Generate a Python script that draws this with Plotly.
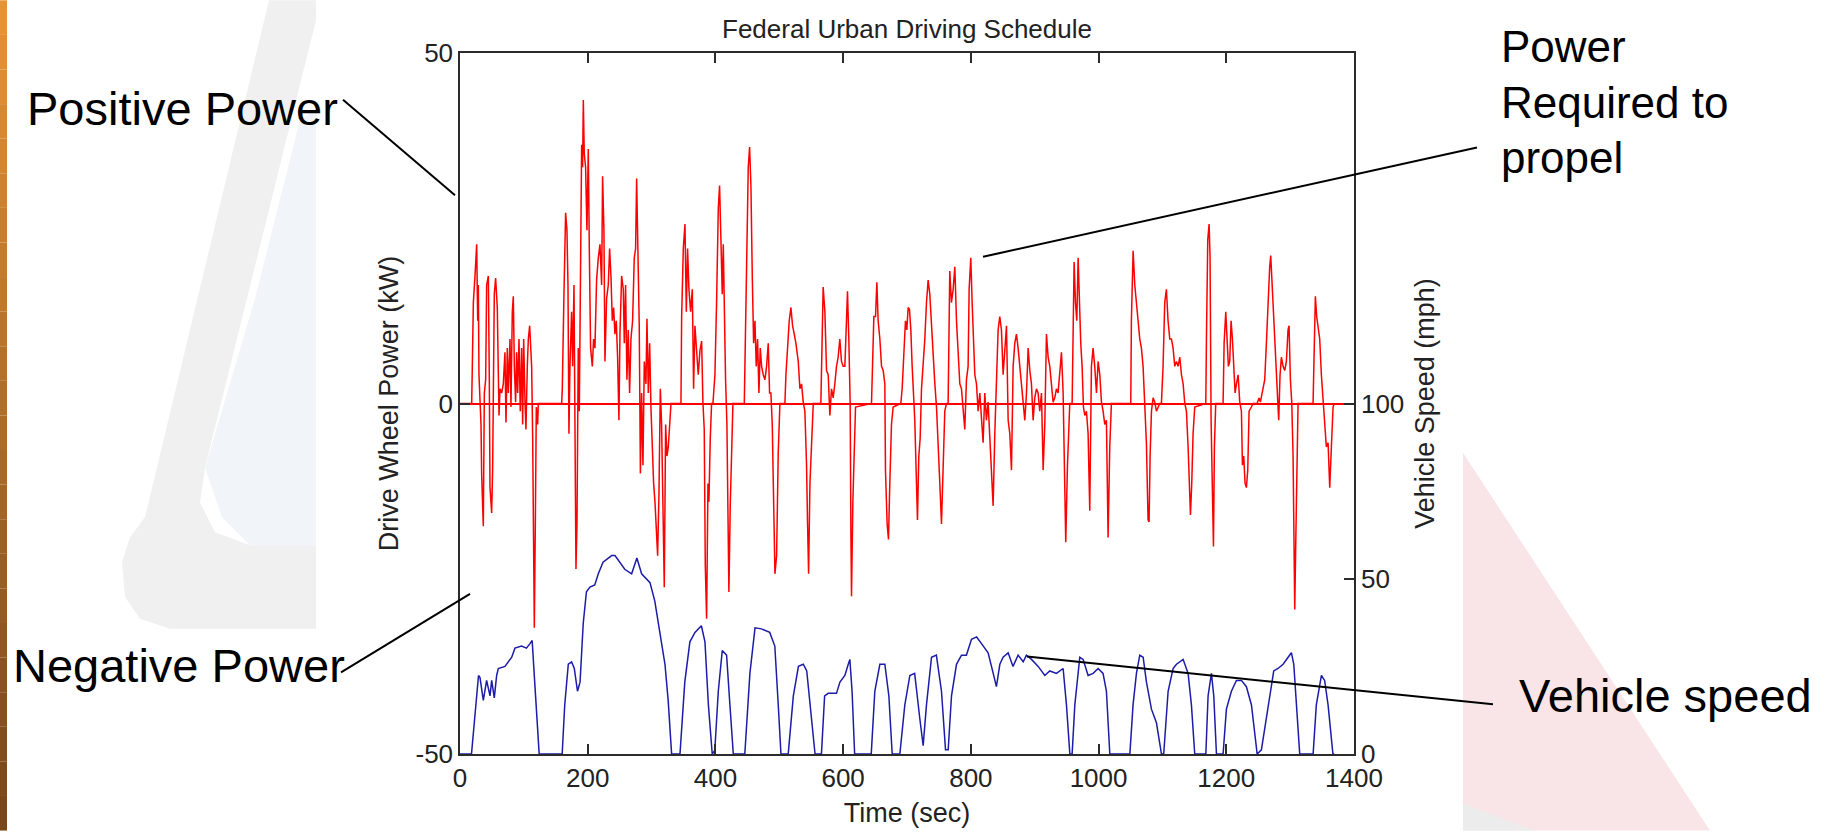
import plotly.graph_objects as go

# ---------------- data ----------------
P_TIME = [0, 18.3, 19.3, 20.9, 23.5, 26.1, 27.7, 28.7, 29.7, 31.3, 32.9, 33.9, 36.5, 38.1, 40.2, 41.7, 44.4, 45.9, 47.0, 49.6,
          51.1, 53.7, 55.8, 58.4, 60.0, 61.1, 62.6, 65.2, 67.8, 70.4, 72.0, 74.1, 75.7, 78.3, 79.8, 81.9, 83.5, 85.1, 87.1,
          88.7, 90.3, 92.4, 94.4, 96.5, 98.1, 99.7, 101.8, 103.3, 105.4, 107.0, 109.1, 110.6, 112.2, 113.8, 115.3, 116.4,
          117.9, 119.5, 121.6, 122.6, 159.2, 160.2, 162.8, 165.4, 167.5, 169.1, 170.6, 172.2, 174.8, 176.4, 178.5, 180.0,
          181.6, 183.2, 185.2, 186.8, 188.9, 190.5, 192.0, 193.1, 194.6, 196.7, 198.8, 200.9, 202.5, 204.5, 207.2, 209.2,
          211.3, 213.9, 216.6, 219.2, 221.8, 223.3, 225.4, 227.0, 229.6, 232.2, 234.3, 236.4, 238.5, 240.6, 242.6, 244.7,
          246.8, 248.9, 250.5, 253.1, 255.7, 257.3, 259.3, 261.4, 263.5, 265.6, 267.7, 270.3, 272.9, 275.0, 276.6, 278.6,
          280.7, 282.5, 284.4, 286.5, 288.6, 291.2, 292.8, 294.9, 297.0, 299.0, 301.1, 303.2, 305.3, 307.4, 309.5, 311.6,
          313.7, 315.7, 317.8, 319.9, 322.0, 324.1, 326.2, 328.3, 330.4, 346.0, 347.1, 349.7, 352.3, 354.4, 356.4, 358.5,
          361.1, 363.8, 365.8, 367.9, 370.5, 373.1, 375.8, 378.4, 380.4, 382.5, 384.1, 386.2, 388.3, 389.8, 391.9, 394.0,
          396.1, 399.2, 401.8, 404.5, 406.5, 408.6, 410.7, 412.3, 413.8, 415.9, 418.0, 419.6, 421.1, 423.2, 425.3, 427.4,
          445.2, 446.2, 448.8, 451.4, 453.5, 455.6, 457.7, 459.8, 461.9, 463.9, 466.0, 468.1, 470.2, 472.3, 474.9, 477.5,
          480.1, 482.7, 484.8, 486.9, 489.0, 491.1, 493.2, 495.8, 498.4, 501.0, 508.8, 510.4, 513.0, 515.6, 518.2, 520.8,
          523.4, 526.0, 529.7, 532.3, 534.9, 537.5, 540.1, 542.7, 544.3, 545.9, 548.0, 550.6, 553.2, 565.1, 566.1, 568.7,
          571.4, 574.0, 576.6, 579.2, 581.8, 584.4, 587.0, 589.6, 592.2, 594.8, 597.4, 600.1, 602.7, 605.3, 606.8, 608.9,
          611.0, 612.1, 613.1, 615.2, 617.3, 619.4, 644.4, 646.0, 648.1, 650.7, 652.8, 654.8, 657.5, 660.1, 662.7, 665.3,
          666.3, 668.9, 671.0, 673.1, 675.7, 678.3, 690.3, 692.4, 695.5, 697.6, 699.7, 701.8, 703.9, 706.0, 708.1, 710.2,
          712.2, 714.3, 716.4, 718.5, 720.6, 722.7, 725.3, 727.9, 730.5, 733.1, 735.7, 738.3, 740.9, 743.6, 746.2, 748.8,
          751.4, 754.0, 756.6, 759.2, 761.8, 764.4, 767.0, 769.6, 772.3, 774.9, 777.5, 780.1, 782.7, 785.3, 787.9, 790.5,
          793.1, 795.7, 797.3, 799.9, 802.0, 804.1, 806.2, 808.8, 811.4, 814.0, 816.6, 819.2, 821.8, 824.4, 827.0, 829.6,
          832.3, 834.9, 837.5, 840.1, 842.7, 845.3, 847.9, 850.5, 853.2, 855.8, 858.4, 861.0, 863.6, 866.2, 868.8, 871.4,
          874.0, 876.6, 879.2, 881.9, 884.5, 887.1, 889.7, 892.3, 894.9, 897.5, 900.1, 902.7, 905.3, 907.9, 910.6, 913.2,
          915.8, 918.4, 921.0, 923.6, 926.2, 928.8, 931.4, 934.0, 936.6, 939.3, 941.9, 944.5, 947.1, 948.6, 951.3, 953.3,
          954.9, 958.6, 960.1, 961.7, 963.8, 965.9, 968.0, 970.0, 972.1, 974.2, 976.3, 978.4, 981.0, 983.6, 986.2, 988.8,
          991.4, 994.0, 996.7, 999.3, 1001.9, 1004.5, 1007.1, 1009.7, 1012.3, 1014.9, 1017.5, 1020.1, 1050.4, 1051.4,
          1054.1, 1056.7, 1059.3, 1061.9, 1064.5, 1067.1, 1069.7, 1072.3, 1074.9, 1077.5, 1079.1, 1080.7, 1082.8, 1085.4,
          1088.0, 1090.6, 1093.2, 1095.8, 1098.4, 1101.0, 1103.6, 1106.2, 1108.8, 1111.5, 1114.1, 1116.7, 1119.3, 1121.9,
          1124.5, 1127.2, 1129.8, 1132.4, 1135.0, 1137.6, 1140.2, 1141.8, 1143.9, 1145.9, 1148.0, 1150.6, 1167.9, 1168.9,
          1171.0, 1173.1, 1174.6, 1176.2, 1178.3, 1179.9, 1181.4, 1183.5, 1195.0, 1196.6, 1199.2, 1201.3, 1203.3, 1205.4,
          1207.5, 1209.6, 1211.7, 1213.8, 1215.9, 1218.5, 1221.1, 1223.7, 1225.3, 1227.3, 1229.4, 1231.5, 1233.6, 1235.7,
          1239.3, 1242.0, 1248.2, 1251.3, 1253.4, 1256.6, 1260.2, 1262.8, 1265.4, 1268.0, 1269.6, 1271.7, 1273.8, 1275.9,
          1278.0, 1280.0, 1282.1, 1284.2, 1286.3, 1288.9, 1291.5, 1294.1, 1296.7, 1298.3, 1300.4, 1302.5, 1304.6, 1306.1,
          1307.2, 1308.7, 1310.3, 1312.4, 1335.9, 1337.4, 1339.5, 1341.6, 1343.7, 1346.3, 1348.9, 1351.5, 1354.1, 1356.7,
          1359.4, 1362.0, 1364.6, 1367.2, 1369.0]
P_KW = [0, 0, 5.3, 14.4, 18.2, 22.7, 11.8, 16.9, 4.1, 0.2, -3.0, -10.1, -17.5, 1.5, 3.4, 16.9, 18.2, 3.4, -12.0, -15.6,
        -9.5, 15.6, 17.9, 13.7, 5.3, -1.7, 2.1, 1.5, 2.8, 7.3, -2.7, 7.9, 1.5, 9.2, -0.5, 13.1, 15.3, 5.3, 0.2,
        7.3, 1.5, 9.2, -1.1, 7.9, -3.0, 9.2, 0.2, -3.7, 5.3, 9.2, 11.1, 7.9, 5.3, -5.0, -17.2, -32.0,
        -17.8, -0.5, -3.0, 0, 0, 2.1, 15.6, 27.2, 24.7, 16.9, -4.3, 5.3, 13.1, 5.3, 16.9, -10.1,
        -23.6, -17.2, 7.9, -1.1, 16.9, 36.9, 33.7, 43.3, 35.6, 33.7, 24.7, 36.3, 22.1, 7.9, 5.3, 9.2,
        7.9, 17.6, 20.8, 22.7, 16.9, 32.4, 24.7, 6.0, 15.0, 16.9, 22.1, 18.2, 11.8, 13.7, 9.9, 11.8,
        6.6, -2.4, 9.9, 18.2, 16.3, 8.6, 16.9, 3.4, 10.5, 1.5, 9.2, 11.8, 20.8, 22.1, 32.1, 20.2,
        11.1, -10.0, 1.5, -8.8, 6.0, 2.8, 12.1, 1.5, 8.6, -0.5, -6.2, -11.4, -14.0, -17.2, -21.7, -12.7,
        2.1, -3.0, -12.7, -26.2, -3.0, -7.5, -6.2, -2.4, 0, 0, 12.4, 22.1, 25.6, 13.1, 22.1, 16.3,
        13.1, 16.3, 2.1, 11.1, 6.6, 4.1, 7.6, 8.9, 0.2, -3.7, -23.0, -30.7, -11.4, -14.0, -5.0, 0,
        0, 4.1, 14.4, 27.9, 31.1, 23.4, 15.6, 22.7, 11.1, 3.4, -3.0, -17.2, -26.9, -14.6, -5.0, 0,
        0, 6.6, 20.2, 33.7, 36.6, 31.1, 18.2, 8.6, 11.8, 5.3, 9.2, 1.5, 7.9, 5.3, 4.1, 3.4,
        5.3, 8.6, 1.5, 1.5, -3.0, -14.0, -24.3, -21.7, -6.9, 0, 0, 4.1, 7.9, 11.8, 13.7, 11.1,
        9.9, 8.6, 6.0, 2.1, 2.8, 0.2, -1.1, -8.8, -17.2, -24.3, -11.4, -6.2, 0, 0, 5.3, 16.6,
        13.1, 4.7, 4.1, -1.7, 2.1, 0.8, 2.8, 5.3, 6.6, 9.2, 6.0, 5.3, 5.3, 13.1, 16.0, 9.2,
        0, -17.8, -27.5, -14.0, -5.6, -0.5, 0, 6.6, 12.4, 12.4, 17.3, 11.8, 9.2, 5.3, 4.7, 2.8,
        -9.5, -17.2, -19.4, -11.4, -3.0, -0.5, 0, 2.1, 7.9, 11.8, 10.5, 13.7, 13.4, 10.5, 5.3, 1.5,
        -2.4, -9.5, -16.6, -7.5, -5.0, 2.1, 5.3, 9.2, 14.4, 17.6, 15.6, 11.1, 6.6, 2.8, -0.5, -5.0,
        -11.4, -17.2, -9.5, -1.1, 0, 0, 18.9, 14.4, 16.3, 19.5, 11.8, 7.9, 2.8, 2.1, -0.5, -3.7,
        3.4, 5.3, 16.3, 20.8, 14.4, 8.6, 4.1, 2.8, -1.1, 1.5, -3.0, -5.6, 1.5, -2.4, 0.2, -5.0,
        -11.4, -14.6, -4.3, 4.7, 10.5, 12.4, 10.5, 4.1, 7.3, 11.1, -2.4, -4.3, -9.5, 5.3, 8.6, 9.9,
        7.9, 5.3, 2.1, 0.2, -2.4, 1.5, 7.9, 4.7, 2.8, -2.4, 0.8, 2.1, 1.5, -1.1, 1.5, -9.5,
        -3.0, 9.9, 6.6, 5.3, 2.8, 0.2, 0.8, 2.1, 1.5, 4.1, 7.3, 1.5, -11.4, -19.8, -8.8, -5.0,
        0, 0, 9.9, 20.2, 14.4, 11.8, 20.8, 14.4, 8.6, 5.3, -0.5, -1.7, -1.1, -4.3, -15.3, 5.3,
        7.9, 5.3, 1.5, 6.0, 4.1, 0.2, -1.1, -3.0, -2.4, -19.1, -6.2, 0, 0, 11.8,
        21.8, 16.9, 13.7, 11.8, 9.2, 7.9, 5.3, 0.2, -5.6, -16.6, -16.9, -7.5, -1.1, 0.8,
        0.2, -1.1, -0.5, 0, 0, 5.3, 14.4, 16.3, 11.8, 9.2, 9.2, 7.9, 5.3, 6.0,
        5.3, 6.6, 4.1, 2.8, 0, -1.1, -6.2, -10.8, -15.9, -11.4, -4.3, -0.5, 0, 9.2,
        23.4, 25.6, 20.8, -2.4, -14.0, -20.4, -6.2, 0, 0, 8.6, 13.1, 9.9, 5.3, 6.0,
        11.8, 9.2, 4.1, 1.5, 2.8, 4.1, 0.2, -1.1, -8.8, -7.5, -11.4, -12.0, -9.5, -1.1,
        -0.5, 0, 0, 0.8, 0.2, 1.5, 3.4, 8.6, 14.4, 19.5, 21.1, 16.9, 11.8, 7.9,
        5.3, 1.5, -2.4, 4.1, 6.6, 5.3, 4.7, 6.0, 10.5, 11.1, 3.4, 0.2, -7.5, -20.4,
        -29.4, -20.4, -7.5, 0, 0, 9.2, 15.3, 12.4, 10.5, 9.2, 4.1, 0.2, -2.4, -6.2,
        -5.6, -12.0, -6.2, -0.5, 0]

V_TIME = [0, 18, 29, 31.3, 36.5, 41.7, 47, 49.6, 53.7, 57.4, 60, 70.4, 81, 86, 96.5, 104, 109.6, 113, 117, 121.6, 124,
          160, 164, 169.6, 174.8, 179, 184, 188, 193, 198, 203.5, 211, 216.6, 224, 237.5, 242.7, 250.5, 258, 268.8, 277,
          284.4, 297.5, 305, 313, 321, 326, 331.4, 344.5, 352, 360, 368, 378, 383.6, 389, 395, 399, 404.5, 410.7, 417.5,
          422.7, 428, 446, 454, 462, 472, 485, 493, 498.4, 502.6, 514, 522, 530, 537.6, 543, 548, 556, 566, 571, 576.6,
          589.6, 595, 602.7, 608, 610.5, 614, 618, 644, 649.6, 657.5, 665.3, 671.6, 676.8, 688.8, 696.6, 704.5, 712, 720,
          725.3, 730.5, 738.4, 746, 754, 760.3, 764.5, 769.7, 777.5, 785.3, 793, 801, 809, 816.7, 827, 835, 840, 845.4,
          850.5, 858.4, 866, 874, 882, 887, 895, 905.4, 915.8, 923.6, 934, 944.5, 949.7, 955, 958.6, 962.8, 970.6, 975.8,
          983.6, 991.5, 999.3, 1007, 1012.3, 1017.6, 1049, 1054, 1059.3, 1064.5, 1069.8, 1075, 1082.8, 1090.6, 1095.8,
          1098.5, 1102, 1108.9, 1116.7, 1122, 1132.4, 1140.2, 1145.4, 1150.6, 1168, 1171.5, 1176.7, 1180.4, 1184.6, 1195,
          1200.2, 1208, 1215.9, 1223.7, 1231.5, 1239.4, 1246, 1248.3, 1255, 1263, 1268, 1274.3, 1281, 1289, 1296.8, 1302,
          1305.7, 1309.8, 1315, 1336, 1341, 1349, 1354, 1359.4, 1367, 1369]
V_MPH = [0, 0, 22.4, 21.8, 15.3, 21, 16.6, 21, 16, 22.4, 24.4, 25, 27.6, 30.2, 30.8, 30.2, 31.5, 32.4, 20.5, 7.6, 0,
         0, 14, 25.6, 26.3, 24.4, 17.9, 20.5, 37.3, 46.3, 47.6, 48.2, 51.4, 54.7, 56.6, 56.6, 54.7, 52.7, 51.4, 55.9,
         51.4, 48.9, 43.7, 34.7, 25.6, 15.3, 0, 0, 20.5, 32, 34.7, 36.6, 32, 14, 0, 1, 17.9, 29.5, 28.2,
         14, 0, 0, 23, 36, 35.7, 34.7, 30.8, 14, 0, 0, 16.6, 25, 25.6, 23.7, 14, 0, 0, 16.6, 17.3,
         17.3, 20.5, 22.4, 25.6, 27, 17.9, 0, 0, 17.9, 25.6, 25.6, 16.6, 0, 0, 14, 22.4, 23, 10.2,
         2.4, 14, 27.6, 28.2, 17.9, 1.2, 1.2, 16.6, 25.6, 28.2, 28.2, 32.7, 33.4, 31.5, 28.9, 23, 19.2, 25.6,
         27.6, 28.9, 25, 28.2, 26.3, 28.2, 27, 25, 22.4, 23.7, 23, 24.4, 14, 0, 0, 14, 27.6, 27,
         22.4, 23, 24.4, 23, 17.9, 0, 0, 14, 23, 28.2, 27.6, 20.5, 12.8, 8.9, 2.4,
         0, 0, 17.9, 24.4, 25.6, 27, 23, 14, 0, 0, 16.6, 23, 16.6, 0, 0,
         12.8, 17.9, 21, 21, 19.2, 14, 3.7, 0, 1.2, 10.2, 16.6, 23.7, 24.4, 25.6, 27.6, 28.9,
         25.6, 14, 0, 0, 14, 22.4, 21, 14, 0, 0]

X_TICKS = [0, 200, 400, 600, 800, 1000, 1200, 1400]
Y_TICKS = [-50, 0, 50]
Y_TICK_TEXT = ["-50", "0", "50"]
Y2_TICKS = [0, 50, 100]

# ---------------- layout geometry (pixels) ----------------
W, H = 1832, 835
L, R, T, B = 460, 478, 53, 77
PW, PH = W - L - R, H - T - B


def px(x):
    return (x - L) / PW


def py(y):
    return (H - B - y) / PH


FONT = "Liberation Sans, Arial, sans-serif"
AXC = "#2b2b2b"
TXC = "#222222"

fig = go.Figure()
fig.add_trace(go.Scatter(x=P_TIME, y=P_KW, mode="lines", line=dict(color="#ff0000", width=1.5),
                         name="Drive wheel power", yaxis="y"))
fig.add_trace(go.Scatter(x=V_TIME, y=V_MPH, mode="lines", line=dict(color="#1c1ca8", width=1.5),
                         name="Vehicle speed", yaxis="y2"))

shapes = []
# orange/brown slide edge bar (gradient)
n = 24
c0, c1 = (233, 146, 48), (120, 72, 28)
for i in range(n):
    f = i / (n - 1)
    col = "rgb(%d,%d,%d)" % tuple(int(c0[k] + (c1[k] - c0[k]) * f) for k in range(3))
    shapes.append(dict(type="rect", xref="paper", yref="paper", x0=px(0), x1=px(7),
                       y0=py(H * i / n), y1=py(H * (i + 1) / n), fillcolor=col, line=dict(width=0), layer="below"))


def path(pts):
    return "M " + " L ".join("%.5f,%.5f" % (px(a), py(b)) for a, b in pts) + " Z"


# faint slide watermark shapes
shapes.append(dict(type="path", xref="paper", yref="paper", layer="below", line=dict(width=0),
                   fillcolor="#f1f4f9",
                   path=path([(316, 110), (316, 548), (250, 548), (222, 520), (205, 470), (255, 300), (300, 120)])))
shapes.append(dict(type="path", xref="paper", yref="paper", layer="below", line=dict(width=0),
                   fillcolor="#f0f0f0",
                   path=path([(269, 0), (316, 0), (316, 20), (205, 470), (200, 505), (215, 535), (250, 548),
                              (316, 548), (316, 632), (170, 632), (140, 622), (125, 600), (122, 565), (130, 540),
                              (145, 520)])))
shapes.append(dict(type="path", xref="paper", yref="paper", layer="below", line=dict(width=0),
                   fillcolor="#f9e5e8", path=path([(1463, 455), (1710, 835), (1463, 835)])))
shapes.append(dict(type="path", xref="paper", yref="paper", layer="below", line=dict(width=0),
                   fillcolor="#ececec", path=path([(1463, 808), (1535, 835), (1463, 835)])))

# callout leader lines
for (xa, ya, xb, yb) in [(343, 100, 455, 196), (341, 676, 470, 597), (983, 258, 1477, 148), (1027, 660, 1493, 708)]:
    shapes.append(dict(type="line", xref="paper", yref="paper", x0=px(xa), y0=py(ya), x1=px(xb), y1=py(yb),
                       line=dict(color="black", width=2), layer="above"))

annotations = []
for txt, x, ymid, fs in [("Positive Power", 25, 108.7, 47), ("Negative Power", 11, 668.7, 47),
                         ("Vehicle speed", 1517, 698.7, 47), ("Power", 1499, 46.8, 44),
                         ("Required to", 1499, 102.8, 44), ("propel", 1499, 157.8, 44)]:
    annotations.append(dict(text=txt, xref="paper", yref="paper", x=px(x), y=py(ymid), xanchor="left",
                            yanchor="middle", showarrow=False, font=dict(family=FONT, size=fs, color="black")))

axis_common = dict(showline=True, linecolor=AXC, linewidth=1.5, ticks="inside", ticklen=10, tickwidth=1.5,
                   tickcolor=AXC, showgrid=False, tickfont=dict(family=FONT, size=26, color=TXC))

fig.update_layout(
    width=W, height=H, margin=dict(l=L, r=R, t=T, b=B, pad=0),
    paper_bgcolor="white", plot_bgcolor="white", showlegend=False,
    title=dict(text="Federal Urban Driving Schedule", x=0.5, xref="paper", xanchor="center",
               y=1 - 38 / H, yref="container", yanchor="bottom", pad=dict(t=0, b=0),
               font=dict(family=FONT, size=26, color=TXC)),
    xaxis=dict(range=[0, 1400], tickvals=X_TICKS, mirror="ticks", zeroline=False,
               title=dict(text="Time (sec)", standoff=11, font=dict(family=FONT, size=27, color=TXC)),
               **axis_common),
    yaxis=dict(range=[-50, 50], tickvals=Y_TICKS, ticktext=Y_TICK_TEXT, mirror=True, zeroline=True,
               zerolinecolor="#ff0000", zerolinewidth=1.5,
               title=dict(text="Drive Wheel Power (kW)", standoff=9, font=dict(family=FONT, size=27, color=TXC)),
               **axis_common),
    yaxis2=dict(range=[0, 200], tickvals=Y2_TICKS, overlaying="y", side="right", zeroline=False,
                title=dict(text="Vehicle Speed (mph)", standoff=12, font=dict(family=FONT, size=27, color=TXC)),
                **axis_common),
    shapes=shapes, annotations=annotations,
)

fig.write_html("out.html")
